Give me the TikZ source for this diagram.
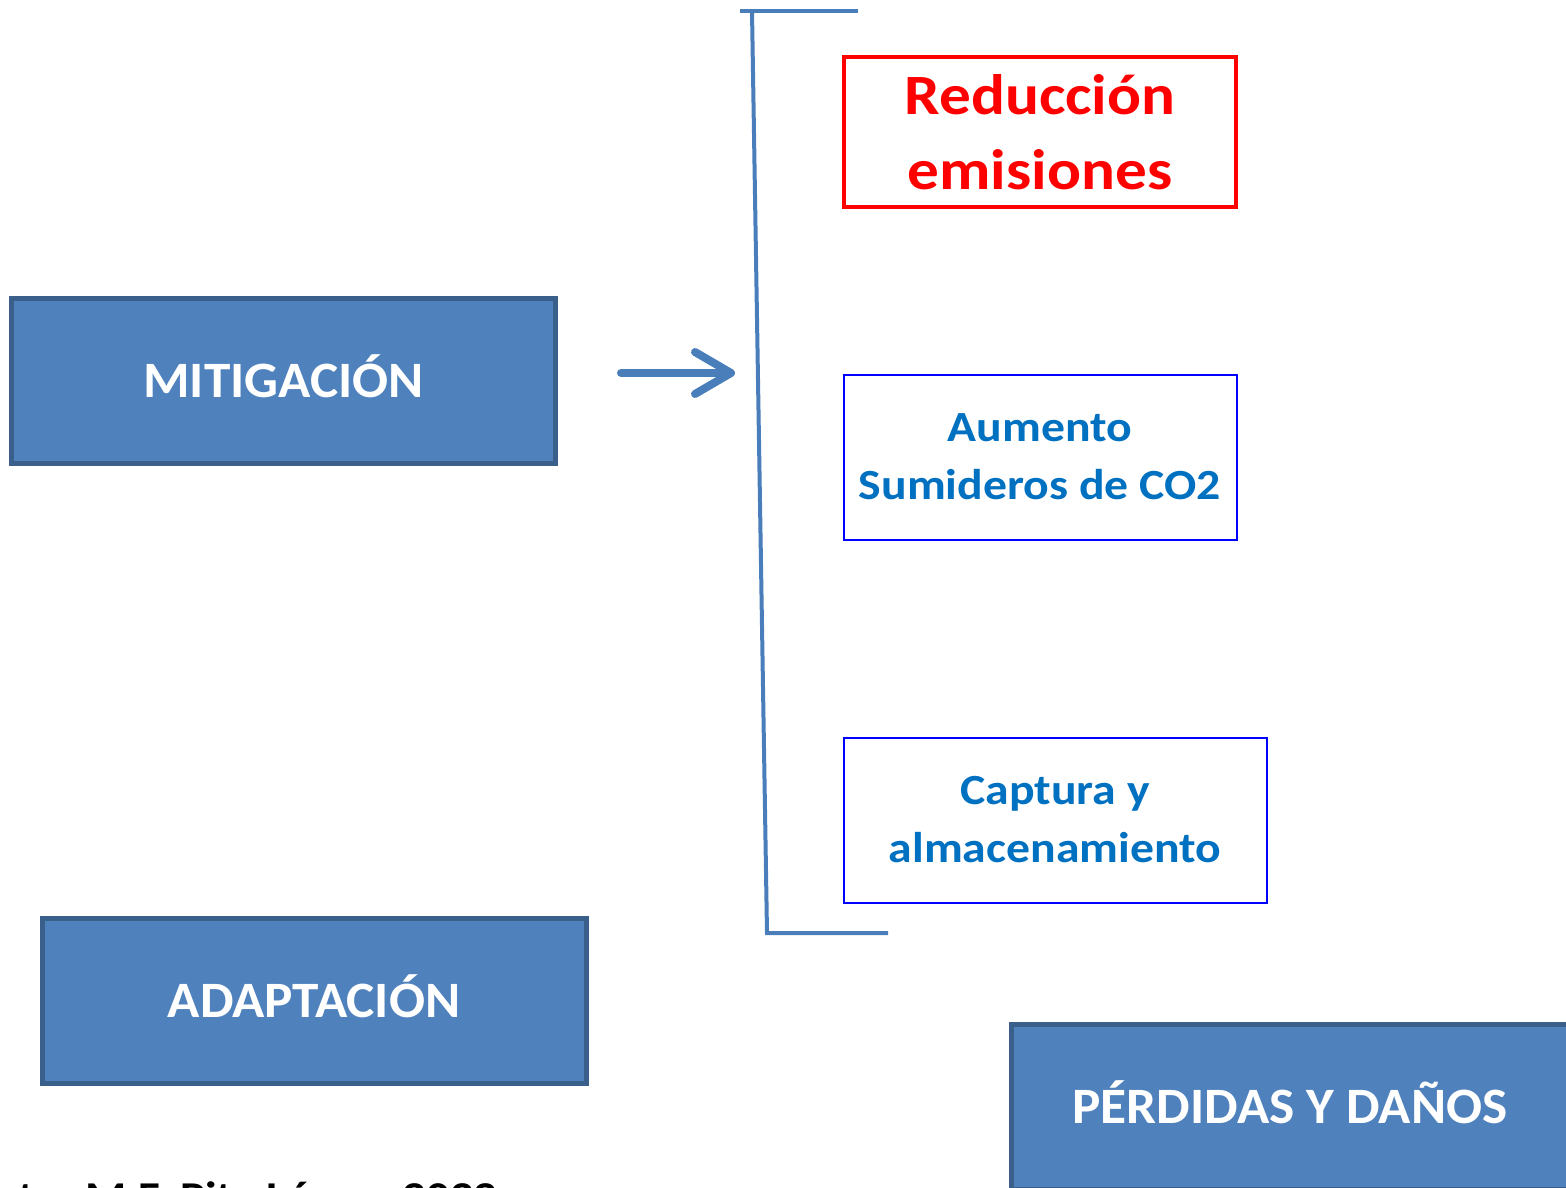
\documentclass[tikz,border=0pt]{standalone}
\usepackage{fontspec}
\setmainfont{Carlito}
\newfontfamily\anchaA[FakeStretch=1.045]{Carlito}
\newfontfamily\anchaB[FakeStretch=1.11]{Carlito}
\usetikzlibrary{arrows.meta}
\definecolor{azulcaja}{HTML}{4F81BD}
\definecolor{bordecaja}{HTML}{3A5F8B}
\definecolor{azullinea}{HTML}{4A7EBB}
\definecolor{azultexto}{HTML}{0070C0}
\tikzset{
  caja/.style={draw=bordecaja, fill=azulcaja, line width=5pt, text=white, inner sep=0pt,
    text height=33pt, text depth=0pt,
    font=\anchaA\bfseries\fontsize{51}{60}\selectfont},
  cajaroja/.style={draw=red, line width=4pt, text=red, align=center, inner sep=0pt,
    font=\anchaB\bfseries\fontsize{57}{75}\selectfont},
  cajaazul/.style={draw=blue, line width=2pt, text=azultexto, align=center, inner sep=0pt,
    font=\anchaB\bfseries\fontsize{43}{58}\selectfont},
  llave/.style={draw=azullinea, line width=4pt},
  flecha/.style={draw=azullinea, line width=8pt, line cap=round,
    -{Straight Barb[length=36pt, width=42pt, round]}},
  fuente/.style={text=black, inner sep=0pt, font=\anchaB\bfseries\fontsize{42.5}{50}\selectfont}
}
\begin{document}
\begin{tikzpicture}[x=1pt, y=-1pt]
    \useasboundingbox (0,0) rectangle (1566,1188);
    % cajas principales
    \node[caja, minimum width=544pt, minimum height=165pt] (mitig) at (283.5,381) {MITIGACIÓN};
    \node[caja, minimum width=544pt, minimum height=165pt] (adapt) at (314,1001) {ADAPTACIÓN};
    \node[caja, minimum width=557pt, minimum height=165pt] (perdidas) at (1290,1107) {PÉRDIDAS Y DAÑOS};
    % opciones de mitigacion
    \node[cajaroja, minimum width=392pt, minimum height=150pt] (reduccion) at (1040,132) {Reducción\\emisiones};
    \node[cajaazul, minimum width=393pt, minimum height=165pt] (sumideros) at (1040,457) {Aumento\\Sumideros de CO2};
    \node[cajaazul, minimum width=423pt, minimum height=165pt] (captura) at (1055,820) {Captura y\\almacenamiento};
    % llave
    \coordinate (llave-a) at (740,11);
    \coordinate (llave-b) at (858,11);
    \coordinate (llave-c) at (752,11);
    \coordinate (llave-d) at (767,933);
    \coordinate (llave-e) at (888,933);
    \draw[llave] (llave-a) -- (llave-b);
    \draw[llave] (llave-c) -- (llave-d) -- (llave-e);
    % flecha
    \coordinate (flecha-ini) at (621,373);
    \coordinate (flecha-fin) at (735,373);
    \draw[flecha] (flecha-ini) -- (flecha-fin);
    % fuente
    \node[fuente, anchor=base east] (autor) at (498,1211.5) {Fuente: M.F. Pita López, 2022};
\end{tikzpicture}
\end{document}
